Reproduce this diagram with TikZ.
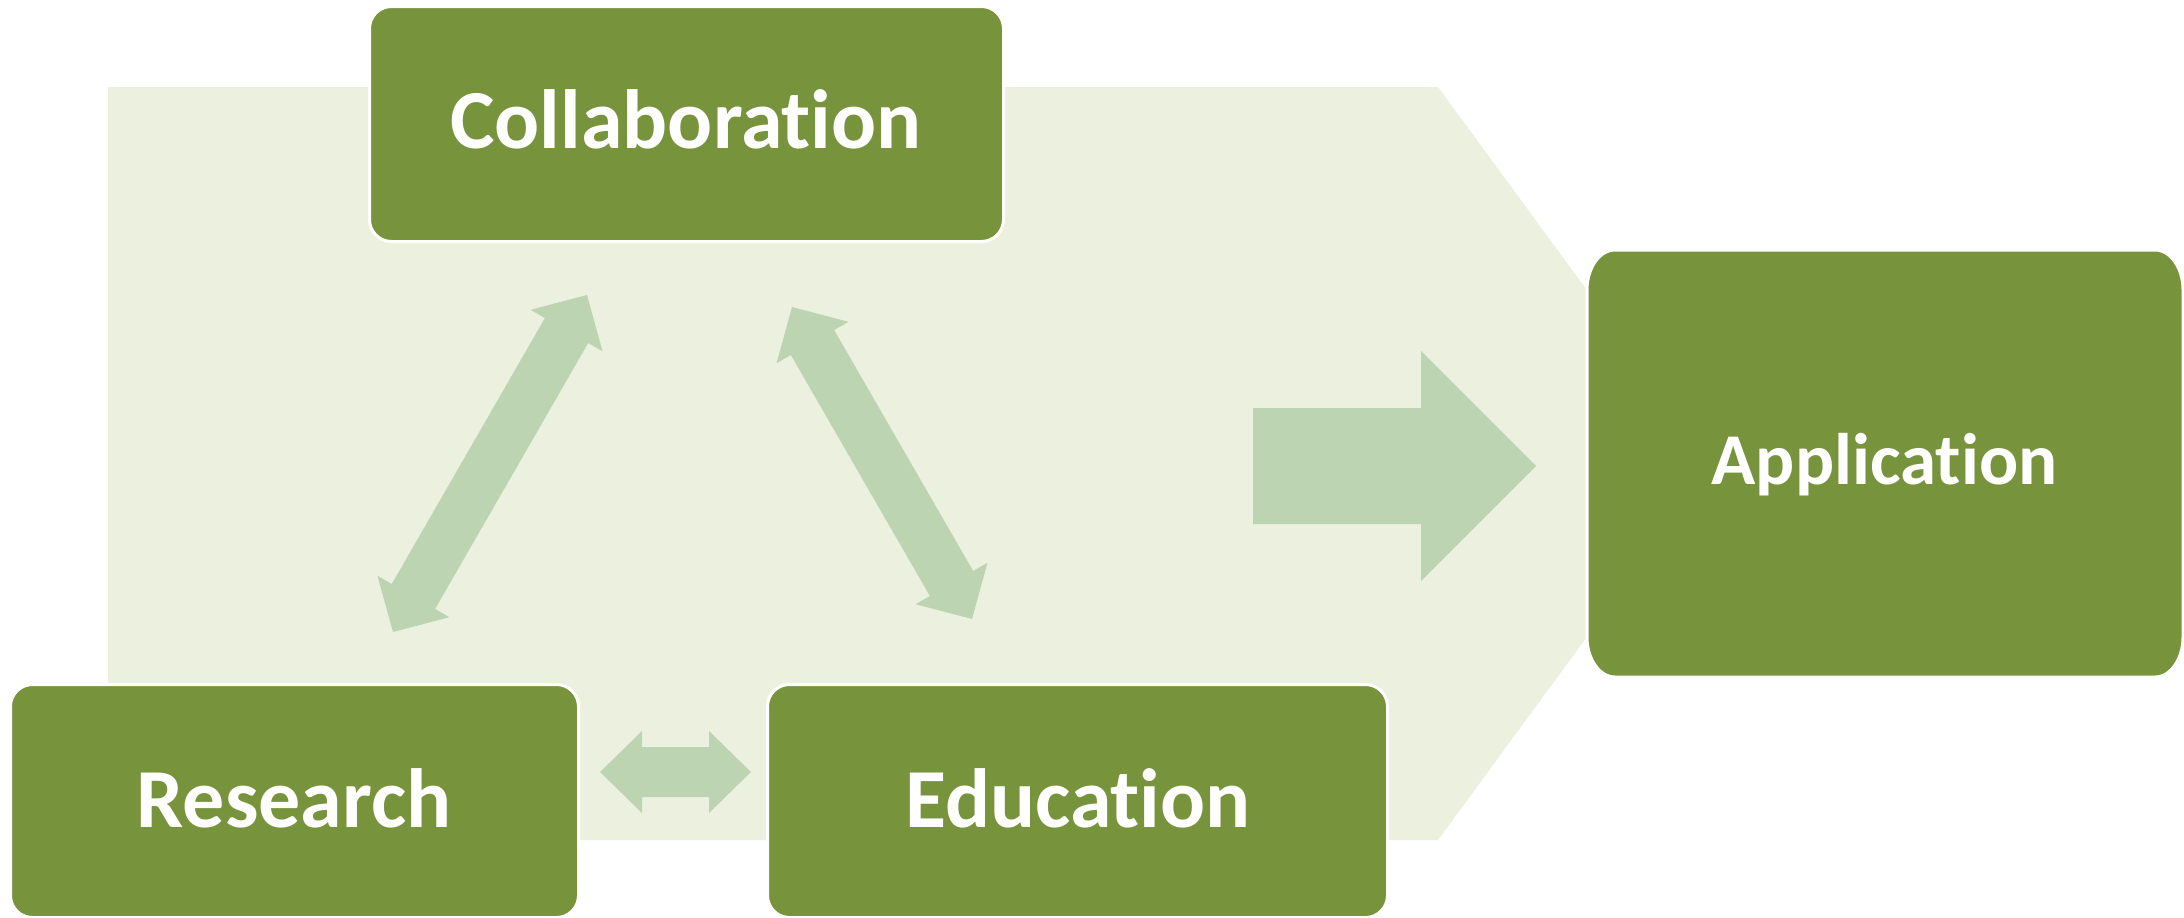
\documentclass[tikz,border=0pt]{standalone}
\usepackage{fontspec}
\setmainfont{Carlito}[Ligatures={NoCommon,NoRare,NoContextual}]
\usetikzlibrary{calc}

\definecolor{boxgreen}{RGB}{119,147,60}
\definecolor{panelgreen}{RGB}{235,241,222}
\definecolor{arrowgreen}{RGB}{188,212,177}

% double-headed block arrow between two tips:
% #1,#2 tips, #3 head length, #4 head half width, #5 shaft half width
\newcommand\twowayarrow[5]{%
  \coordinate (ha) at ($(#1)!#3!(#2)$);
  \coordinate (hb) at ($(#2)!#3!(#1)$);
  \fill[arrowfill] (#1) -- ($(ha)!#4!90:(#2)$) -- ($(ha)!#5!90:(#2)$)
    -- ($(hb)!#5!-90:(#1)$) -- ($(hb)!#4!-90:(#1)$) -- (#2)
    -- ($(hb)!#4!90:(#1)$) -- ($(hb)!#5!90:(#1)$)
    -- ($(ha)!#5!-90:(#2)$) -- ($(ha)!#4!-90:(#2)$) -- cycle;}

% single-headed block arrow: #1 tail, #2 tip, then as above
\newcommand\onewayarrow[5]{%
  \coordinate (hb) at ($(#2)!#3!(#1)$);
  \fill[arrowfill] ($(#1)!#5!90:(#2)$) -- ($(hb)!#5!-90:(#1)$)
    -- ($(hb)!#4!-90:(#1)$) -- (#2) -- ($(hb)!#4!90:(#1)$)
    -- ($(hb)!#5!90:(#1)$) -- ($(#1)!#5!-90:(#2)$) -- cycle;}

\tikzset{
  arrowfill/.style={fill=arrowgreen},
  greenbox/.style={rectangle, fill=boxgreen, draw=white, line width=3pt,
    rounded corners=22pt, inner sep=0pt},
  boxlabel/.style={text=white, inner sep=0pt, anchor=base,
    font=\bfseries\fontsize{84}{90}\selectfont},
}

\begin{document}
\begin{tikzpicture}[x=1pt, y=-1pt]
\useasboundingbox (0,0) rectangle (2184,918);
\fill[white] (0,0) rectangle (2184,918);

% pale backdrop pointing to the right
\fill[panelgreen] (108,87) -- (1438,87) -- (1714,463.5) -- (1438,840) -- (108,840) -- cycle;

% arrow end points
\coordinate (lt) at (587,295);
\coordinate (lb) at (393,632);
\coordinate (rt) at (792,307);
\coordinate (rb) at (972,619);
\coordinate (hl) at (600,772);
\coordinate (hr) at (751,772);
\coordinate (bigtail) at (1253,466);
\coordinate (bigtip) at (1536,466);

\twowayarrow{lt}{lb}{41pt}{41.5pt}{25pt}
\twowayarrow{rt}{rb}{41pt}{41.5pt}{25pt}
\twowayarrow{hl}{hr}{42pt}{41pt}{25pt}
\onewayarrow{bigtail}{bigtip}{115pt}{115pt}{58pt}

% the three boxes of the cycle
\node[greenbox, minimum width=634pt, minimum height=235pt] (collab) at (686.5,124) {};
\node[greenbox, minimum width=568pt, minimum height=233pt] (research) at (294.5,801) {};
\node[greenbox, minimum width=620pt, minimum height=233pt] (education) at (1077.5,801) {};

% result box, with taller corner curves
\path[fill=boxgreen, draw=white, line width=3pt]
  (1615,250) -- (2155,250)
  .. controls (2170.5,250) and (2183,268) .. (2183,290)
  -- (2183,637)
  .. controls (2183,659) and (2170.5,677) .. (2155,677)
  -- (1615,677)
  .. controls (1599.5,677) and (1587,659) .. (1587,637)
  -- (1587,290)
  .. controls (1587,268) and (1599.5,250) .. (1615,250) -- cycle;

\node[boxlabel] (collabtext) at (686,148) {Collaboration};
\node[boxlabel] (researchtext) at (294,827) {Research};
\node[boxlabel] (educationtext) at (1078,827) {Education};
\node[boxlabel, font=\bfseries\fontsize{73}{80}\selectfont] (applicationtext) at (1884.5,484) {Application};
\end{tikzpicture}
\end{document}
